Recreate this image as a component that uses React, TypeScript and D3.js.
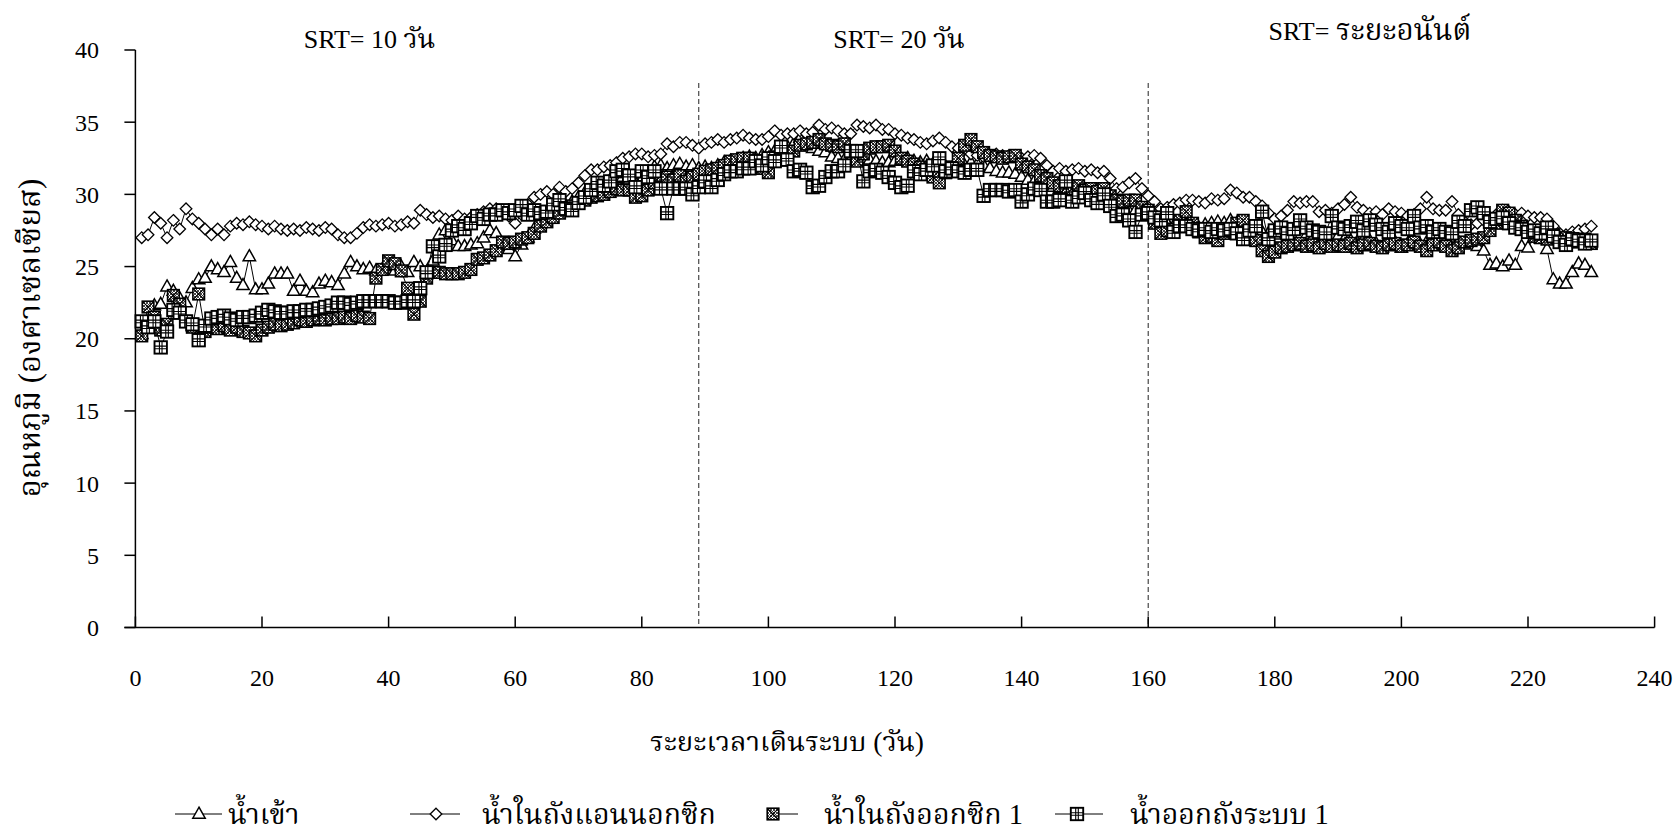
import React from "react";
import * as d3 from "d3";

// ---------- data ----------
const xTicks = [0, 20, 40, 60, 80, 100, 120, 140, 160, 180, 200, 220, 240];
const yTicks = [0, 5, 10, 15, 20, 25, 30, 35, 40];
const phaseBreaks = [89, 160];
const phaseLatin = ["SRT= 10 ", "SRT= 20 ", "SRT= "];
const phaseThai = ["วัน", "วัน", "ระยะอนันต์"];
const seriesNames = ["น้ำเข้า", "น้ำในถังแอนนอกซิก", "น้ำในถังออกซิก 1", "น้ำออกถังระบบ 1"];
const xTitle = "ระยะเวลาเดินระบบ (วัน)";
const yTitle = "อุณหภูมิ (องศาเซลเซียส)";

// days 1..230
const inflow = [
  20.3, 21.0, 22.3, 22.4, 23.6, 23.3, 22.8, 22.5, 23.5, 24.1,
  24.2, 25.0, 24.8, 24.6, 25.3, 24.2, 23.7, 25.7, 23.4, 23.4,
  23.8, 24.5, 24.5, 24.5, 23.3, 24.0, 23.3, 23.2, 23.8, 24.0,
  23.9, 23.7, 24.5, 25.3, 25.0, 24.8, 24.9, 24.7, 24.8, 25.0,
  24.7, 25.0, 24.6, 25.3, 25.0, 24.6, 25.4, 27.2, 27.5, 26.8,
  26.4, 26.4, 26.5, 26.6, 27.0, 27.5, 27.3, 26.4, 26.2, 25.7,
  26.5, 27.0, 27.6, 28.0, 28.4, 28.6, 28.9, 29.2, 29.5, 29.8,
  30.1, 30.3, 30.5, 30.8, 31.0, 31.0, 31.2, 31.0, 30.8, 31.1,
  31.4, 31.9, 32.0, 31.8, 32.0, 32.1, 31.9, 32.0, 31.8, 31.9,
  31.8, 32.0, 32.2, 32.3, 32.4, 32.5, 32.6, 32.5, 32.7, 32.9,
  33.0, 33.2, 33.3, 33.5, 33.9, 33.4, 33.2, 33.0, 32.9, 32.6,
  32.5, 32.4, 32.6, 32.7, 32.5, 32.4, 32.3, 32.2, 32.2, 32.3,
  32.4, 32.5, 32.3, 32.2, 32.3, 32.1, 32.0, 31.9, 31.8, 31.9,
  32.0, 32.2, 32.1, 32.0, 31.8, 31.6, 31.5, 31.5, 31.4, 31.2,
  31.0, 30.9, 30.7, 30.6, 30.5, 30.4, 30.3, 30.2, 30.0, 30.0,
  29.9, 29.7, 29.6, 29.5, 29.3, 29.0, 28.8, 28.9, 29.0, 28.7,
  28.4, 28.2, 28.0, 27.8, 27.9, 28.0, 27.8, 27.7, 27.9, 28.0,
  28.1, 28.0, 28.2, 28.0, 27.8, 27.6, 27.5, 27.4, 27.3, 27.2,
  27.4, 27.2, 27.0, 27.1, 27.2, 27.0, 26.9, 26.8, 27.0, 27.1,
  26.9, 26.8, 26.7, 26.9, 26.8, 26.6, 26.3, 26.5, 26.7, 26.3,
  26.6, 26.8, 26.5, 26.7, 26.6, 26.5, 26.4, 26.6, 26.7, 26.5,
  26.8, 26.4, 26.1, 25.1, 25.2, 25.0, 25.4, 25.1, 26.4, 26.3,
  27.0, 26.9, 26.2, 24.1, 23.8, 23.8, 24.6, 25.2, 25.1, 24.6,
];

const anoxic = [
  27.0, 27.2, 28.4, 28.0, 27.0, 28.2, 27.6, 29.0, 28.3, 28.0,
  27.6, 27.2, 27.6, 27.2, 27.8, 28.0, 27.9, 28.1, 27.9, 27.8,
  27.6, 27.8, 27.6, 27.5, 27.6, 27.5, 27.7, 27.6, 27.5, 27.7,
  27.6, 27.2, 27.0, 27.0, 27.3, 27.7, 27.9, 27.8, 27.9, 28.0,
  27.8, 27.9, 28.1, 28.0, 28.9, 28.6, 28.4, 28.5, 28.3, 28.2,
  28.5, 28.3, 28.4, 28.6, 28.8, 29.0, 29.0, 28.9, 28.5, 28.0,
  28.6, 29.3, 29.8, 30.0, 30.2, 30.0, 30.5, 30.2, 30.4, 30.8,
  31.3, 31.7, 31.7, 31.9, 32.0, 32.2, 32.5, 32.6, 32.8, 32.8,
  32.6, 32.7, 32.8, 33.5, 33.3, 33.6, 33.6, 33.4, 33.2, 33.5,
  33.6, 33.8, 33.6, 33.8, 33.9, 34.1, 33.9, 33.8, 33.8, 34.0,
  34.4, 34.1, 34.2, 34.2, 34.4, 34.2, 34.3, 34.8, 34.5, 34.6,
  34.4, 34.2, 34.2, 34.8, 34.7, 34.6, 34.8, 34.5, 34.5, 34.2,
  34.1, 33.9, 33.8, 33.6, 33.5, 33.7, 33.9, 33.6, 33.3, 33.2,
  33.1, 32.8, 32.7, 32.6, 32.7, 32.8, 32.7, 32.7, 32.7, 32.5,
  32.6, 32.7, 32.5, 32.0, 31.6, 31.8, 31.6, 31.7, 31.8, 31.6,
  31.7, 31.5, 31.6, 31.1, 30.4, 30.5, 30.8, 31.1, 30.4, 29.9,
  29.5, 29.0, 29.1, 29.3, 29.4, 29.6, 29.6, 29.5, 29.4, 29.7,
  29.6, 29.7, 30.3, 30.1, 29.8, 29.8, 29.5, 29.2, 28.7, 28.3,
  28.5, 28.9, 29.5, 29.4, 29.5, 29.5, 28.8, 28.9, 28.7, 29.0,
  29.3, 29.8, 29.1, 28.9, 28.7, 28.8, 28.6, 29.0, 28.8, 28.7,
  28.5, 28.6, 29.0, 29.8, 29.0, 28.9, 28.9, 29.5, 28.6, 28.1,
  27.9, 28.0, 28.2, 28.4, 28.6, 28.9, 28.8, 28.6, 28.7, 28.5,
  28.4, 28.4, 28.3, 27.8, 27.3, 27.2, 27.4, 27.5, 27.6, 27.8,
];

const oxic1 = [
  20.2, 22.2, 21.5, 20.6, 21.0, 23.0, 22.4, 21.2, 20.8, 23.1,
  20.5, 20.8, 20.7, 20.9, 20.6, 20.8, 20.5, 20.4, 20.2, 20.6,
  20.8, 21.0, 20.9, 21.0, 21.1, 21.3, 21.2, 21.3, 21.4, 21.3,
  21.4, 21.4, 21.5, 21.4, 21.6, 21.5, 21.4, 24.2, 24.8, 25.4,
  25.2, 24.7, 23.5, 21.7, 22.6, 24.2, 24.6, 24.6, 24.5, 24.5,
  24.5, 24.6, 24.8, 25.5, 25.6, 25.8, 26.1, 26.7, 26.6, 26.7,
  26.9, 27.0, 27.3, 27.8, 28.1, 28.4, 28.7, 29.0, 29.2, 29.4,
  29.6, 29.8, 29.9, 30.0, 30.2, 30.4, 30.3, 30.3, 29.8, 29.9,
  30.3, 30.8, 31.3, 31.2, 31.0, 31.3, 30.9, 31.2, 31.4, 31.6,
  31.7, 31.8, 32.0, 32.3, 32.4, 32.5, 32.5, 32.2, 31.8, 31.5,
  32.6, 33.3, 32.4, 33.0, 33.4, 33.5, 33.6, 33.8, 33.5, 33.4,
  33.3, 33.5, 33.0, 32.3, 32.8, 33.2, 33.3, 33.3, 33.4, 33.0,
  32.5, 32.3, 32.1, 31.9, 31.6, 31.2, 30.8, 31.5, 31.9, 32.5,
  33.4, 33.8, 33.3, 32.9, 32.7, 32.6, 32.5, 32.6, 32.7, 32.1,
  31.9, 31.7, 31.3, 31.1, 30.8, 30.6, 30.5, 30.4, 30.6, 30.3,
  30.4, 30.2, 30.4, 29.9, 29.6, 29.5, 29.6, 29.6, 29.1, 28.9,
  28.0, 27.3, 27.5, 27.6, 28.2, 28.8, 28.0, 27.4, 27.0, 27.1,
  26.8, 27.3, 27.6, 28.0, 28.2, 27.1, 26.8, 26.1, 25.7, 26.0,
  26.3, 26.4, 26.5, 26.6, 26.4, 26.5, 26.3, 26.6, 26.4, 26.5,
  26.4, 26.6, 26.3, 26.5, 26.6, 26.4, 26.3, 26.5, 26.6, 26.4,
  26.5, 26.7, 26.4, 26.1, 26.5, 26.7, 26.4, 26.1, 26.3, 26.7,
  26.8, 26.9, 27.0, 27.5, 28.0, 28.9, 28.7, 28.2, 27.8, 27.4,
  27.1, 27.0, 26.9, 27.2, 26.9, 27.0, 26.8, 26.7, 26.9, 26.6,
];

const outflow1 = [
  21.2, 20.8, 21.2, 19.4, 20.5, 22.0, 21.8, 21.2, 21.0, 19.9,
  20.9, 21.4, 21.5, 21.6, 21.4, 21.3, 21.5, 21.5, 21.6, 21.8,
  22.0, 21.9, 21.8, 21.8, 21.9, 21.9, 22.0, 22.0, 22.1, 22.2,
  22.3, 22.5, 22.5, 22.4, 22.5, 22.6, 22.6, 22.6, 22.6, 22.6,
  22.5, 22.5, 22.6, 22.6, 23.5, 24.6, 26.4, 25.7, 26.5, 27.5,
  27.8, 27.6, 28.0, 28.5, 28.3, 28.6, 28.6, 28.9, 28.7, 28.9,
  29.2, 28.6, 28.9, 28.7, 28.8, 29.3, 29.6, 29.0, 28.9, 29.4,
  29.8, 30.3, 30.8, 30.6, 30.9, 31.6, 31.7, 31.3, 30.5, 31.6,
  31.2, 31.6, 30.4, 28.7, 30.4, 30.4, 30.4, 30.0, 30.5, 30.9,
  30.5, 31.0, 31.4, 31.6, 31.6, 31.8, 31.8, 32.3, 32.0, 32.5,
  32.3, 33.3, 32.4, 31.6, 31.7, 31.5, 30.5, 30.6, 31.2, 31.6,
  31.6, 32.0, 33.0, 33.0, 30.9, 31.6, 31.7, 31.5, 31.2, 30.8,
  30.5, 30.6, 31.6, 31.4, 31.7, 32.0, 32.5, 31.6, 31.8, 31.6,
  31.5, 31.7, 31.7, 29.9, 30.3, 30.3, 30.3, 30.2, 30.3, 29.5,
  30.0, 30.4, 30.3, 29.5, 29.5, 29.6, 30.9, 29.5, 29.8, 30.1,
  29.6, 29.4, 30.0, 29.2, 28.5, 28.6, 28.2, 27.4, 28.6, 28.7,
  28.4, 28.2, 28.7, 27.4, 27.8, 27.8, 27.6, 27.5, 27.6, 27.4,
  27.6, 27.5, 27.6, 27.3, 26.9, 27.5, 27.8, 28.8, 26.9, 27.5,
  27.7, 27.3, 27.6, 28.2, 27.7, 27.5, 27.4, 27.3, 28.5, 27.7,
  27.6, 27.8, 28.1, 27.5, 28.2, 27.9, 27.6, 27.4, 28.0, 27.8,
  27.6, 28.5, 27.7, 27.8, 27.4, 27.6, 27.4, 27.3, 28.1, 27.8,
  28.9, 29.1, 28.7, 28.1, 28.3, 28.4, 28.0, 27.7, 27.6, 27.4,
  27.5, 27.3, 27.7, 27.1, 26.7, 26.5, 26.9, 26.8, 26.6, 26.8,
];

const firstDay = 1;

// ---------- layout ----------
const W = 1679;
const H = 830;
const FONT =
  "Liberation Serif, Times New Roman, Times, Noto Serif Thai, Norasi, Kinnari, Tlwg Typo, serif";
const FS = 24;

const x = d3.scaleLinear().domain([0, 240]).range([135.4, 1654.6]);
const y = d3.scaleLinear().domain([0, 40]).range([627.5, 50]);

type MarkerKind = "tri" | "dia" | "xsq" | "grid";

function Marker({ kind, cx, cy }: { kind: MarkerKind; cx: number; cy: number }) {
  if (kind === "tri") {
    const p = `M${cx},${cy - 6.8}L${cx + 6.2},${cy + 4.2}L${cx - 6.2},${cy + 4.2}Z`;
    return <path d={p} fill="#fff" stroke="#000" strokeWidth={1.5} strokeLinejoin="miter" />;
  }
  if (kind === "dia") {
    const r = 5.8;
    const p = `M${cx},${cy - r}L${cx + r},${cy}L${cx},${cy + r}L${cx - r},${cy}Z`;
    return <path d={p} fill="#fff" stroke="#000" strokeWidth={1.3} />;
  }
  if (kind === "xsq") {
    const h = 5.8;
    return (
      <g>
        <rect x={cx - h} y={cy - h} width={2 * h} height={2 * h} fill="url(#hatch)" stroke="#000" strokeWidth={1.6} />
        <path
          d={`M${cx - h},${cy - h}L${cx + h},${cy + h}M${cx + h},${cy - h}L${cx - h},${cy + h}`}
          stroke="#000"
          strokeWidth={1.1}
        />
      </g>
    );
  }
  const h = 6.2;
  return (
    <g>
      <rect x={cx - h} y={cy - h} width={2 * h} height={2 * h} fill="#fff" stroke="#000" strokeWidth={1.9} />
      <path
        d={`M${cx - 1.3},${cy - h}V${cy + h}M${cx + 1.3},${cy - h}V${cy + h}M${cx - h},${cy - 1.3}H${cx + h}M${cx - h},${cy + 1.3}H${cx + h}`}
        stroke="#000"
        strokeWidth={1.1}
      />
    </g>
  );
}

const seriesList: { name: string; values: number[]; kind: MarkerKind }[] = [
  { name: seriesNames[0], values: inflow, kind: "tri" },
  { name: seriesNames[1], values: anoxic, kind: "dia" },
  { name: seriesNames[2], values: oxic1, kind: "xsq" },
  { name: seriesNames[3], values: outflow1, kind: "grid" },
];

const lineGen = d3
  .line<number>()
  .x((_, i) => x(firstDay + i))
  .y((v) => y(v));

const textStyle = { fontFamily: FONT };

export default function App() {
  const legendY = 814;
  const phaseX = [369.5, 899, 1370];
  const phaseY = [48, 48, 40];
  const legendItems = [
    { kind: "tri" as MarkerKind, l1: 175, l2: 222, m: 199, t: 228 },
    { kind: "dia" as MarkerKind, l1: 410, l2: 460, m: 436, t: 482 },
    { kind: "xsq" as MarkerKind, l1: 773, l2: 798, m: 773, t: 824 },
    { kind: "grid" as MarkerKind, l1: 1055, l2: 1103, m: 1077, t: 1130 },
  ];
  return (
    <svg
      width={W}
      height={H}
      viewBox={`0 0 ${W} ${H}`}
      style={{ position: "absolute", left: 0, top: 0, background: "#fff", fontFamily: FONT }}
    >
      <defs>
        <pattern id="hatch" width="3" height="3" patternUnits="userSpaceOnUse">
          <rect width="3" height="3" fill="#fff" />
          <path d="M0,0L3,3M3,0L0,3" stroke="#333" strokeWidth="0.9" />
        </pattern>
      </defs>
      <rect width={W} height={H} fill="#fff" />

      {/* phase separators */}
      {phaseBreaks.map((d) => (
        <line
          key={d}
          x1={x(d)}
          x2={x(d)}
          y1={83}
          y2={y(0)}
          stroke="#222"
          strokeWidth={1}
          strokeDasharray="5,3"
        />
      ))}

      {/* series */}
      {seriesList.map((s) => (
        <g key={s.name}>
          <path d={lineGen(s.values) || ""} fill="none" stroke="#000" strokeWidth={1} />
          {s.values.map((v, i) => (
            <Marker key={i} kind={s.kind} cx={x(firstDay + i)} cy={y(v)} />
          ))}
        </g>
      ))}

      {/* y axis */}
      <line x1={x(0)} x2={x(0)} y1={y(40)} y2={y(0)} stroke="#000" strokeWidth={1.5} />
      {yTicks.map((t) => (
        <g key={t}>
          <line x1={x(0) - 11} x2={x(0)} y1={y(t)} y2={y(t)} stroke="#000" strokeWidth={1.5} />
          <text x={99} y={y(t)} dy="0.35em" textAnchor="end" fontSize={FS} style={textStyle}>
            {t}
          </text>
        </g>
      ))}

      {/* x axis */}
      <line x1={x(0) - 11} x2={x(240)} y1={y(0)} y2={y(0)} stroke="#000" strokeWidth={1.5} />
      {xTicks.map((t) => (
        <g key={t}>
          <line x1={x(t)} x2={x(t)} y1={y(0)} y2={y(0) - 11} stroke="#000" strokeWidth={1.5} />
          <text x={x(t)} y={678} dy="0.35em" textAnchor="middle" fontSize={FS} style={textStyle}>
            {t}
          </text>
        </g>
      ))}

      {/* phase labels */}
      {phaseLatin.map((lab, i) => (
        <text key={i} x={phaseX[i]} y={phaseY[i]} textAnchor="middle" fontSize={26} style={textStyle}>
          {lab}
          <tspan fontSize={i === 2 ? 29.5 : 27}>{phaseThai[i]}</tspan>
        </text>
      ))}

      {/* axis titles */}
      <text x={787} y={741} dy="0.35em" textAnchor="middle" fontSize={27.5} style={textStyle}>
        {xTitle}
      </text>
      <text
        transform="translate(29,338) rotate(-90)"
        dy="0.35em"
        textAnchor="middle"
        fontSize={31}
        style={textStyle}
      >
        {yTitle}
      </text>

      {/* legend */}
      {legendItems.map((it, i) => (
        <g key={i}>
          <line x1={it.l1} x2={it.l2} y1={legendY} y2={legendY} stroke="#000" strokeWidth={1} />
          <Marker kind={it.kind} cx={it.m} cy={legendY} />
          <text x={it.t} y={legendY} dy="0.35em" fontSize={28.5} style={textStyle}>
            {seriesNames[i]}
          </text>
        </g>
      ))}
    </svg>
  );
}
